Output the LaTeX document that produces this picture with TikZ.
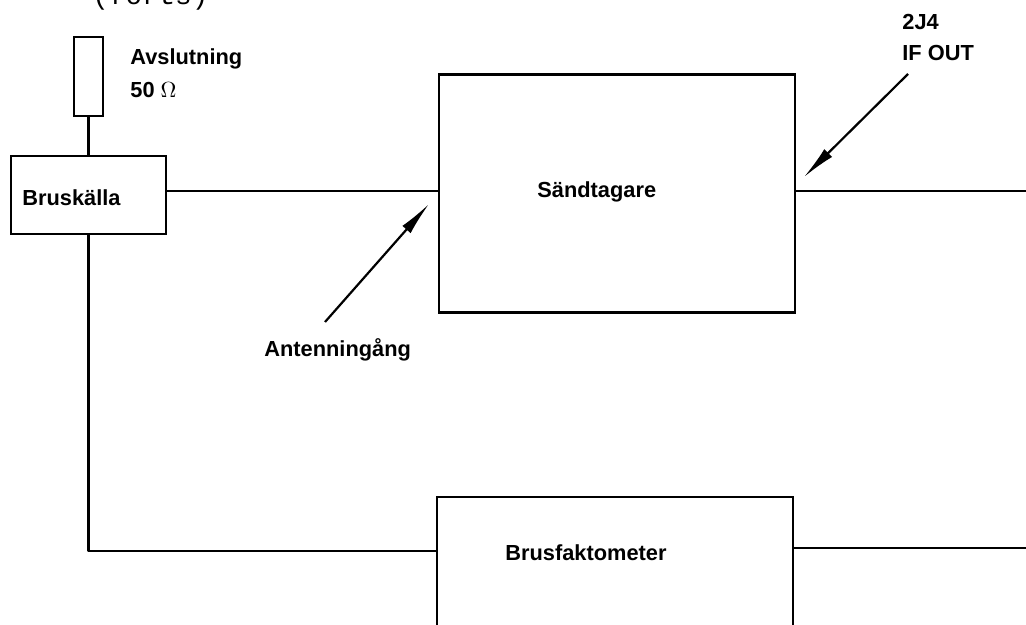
\documentclass[tikz,border=0pt]{standalone}
\usepackage{fontspec}
\setmainfont{Liberation Sans}
\newfontfamily\typewriter{Liberation Mono}
\usetikzlibrary{arrows.meta}
\tikzset{
  wire/.style={line width=1.3pt, line join=round},
  blockbox/.style={draw, line width=1.3pt, inner sep=0pt},
  lbl/.style={font=\fontsize{10.9}{13}\selectfont\bfseries, inner sep=0pt, anchor=west},
  pointer/.style={line width=1.1pt, -{Latex[length=17pt,width=5.5pt]}}
}
\begin{document}
\begin{tikzpicture}[x=0.5pt,y=-0.5pt]
\useasboundingbox (0,0) rectangle (1026,625);

% continuation heading, mostly above the page edge
\node[font=\typewriter\fontsize{13.8}{16}\selectfont, anchor=base west, inner sep=0pt] (forts) at (92,4.5) {(forts)};

% blocks
\node[blockbox, minimum width=14.5pt, minimum height=39.5pt] (res) at (88.5,76.5) {};
\node[blockbox, minimum width=77.5pt, minimum height=39pt] (brk) at (88.5,195) {};
\node[blockbox, minimum width=178pt, minimum height=119pt] (sand) at (617,193.5) {};
\node[blockbox, minimum width=178pt, minimum height=120pt] (bf) at (615,617) {};

% texts
\node[lbl] (avs) at (130,59) {Avslutning};
\node[lbl] (ohm) at (130,90) {50 $\Omega$};
\node[lbl] (brkt) at (22,198) {Bruskälla};
\node[lbl] (sandt) at (537,192) {Sändtagare};
\node[lbl] (bft) at (505,553) {Brusfaktometer};
\node[lbl] (ant) at (264,350) {Antenningång};
\node[lbl] (j4) at (902,22) {2J4};
\node[lbl] (ifo) at (902,53) {IF OUT};

% connections
\coordinate (rightA) at (1026,191);
\coordinate (rightB) at (1026,548);
\coordinate (corner) at (88.5,551);
\draw[wire] (res.south) -- (brk.north);
\draw[wire] (brk.east |- rightA) -- (sand.west |- rightA);
\draw[wire] (sand.east |- rightA) -- (rightA);
\draw[wire] (brk.south) -- (corner) -- (bf.west |- corner);
\draw[wire] (bf.east |- rightB) -- (rightB);

% pointer arrows
\coordinate (antTail) at (325,322);
\coordinate (antTip) at (429,204);
\coordinate (ifTail) at (908,74);
\coordinate (ifTip) at (804,177);
\draw[pointer] (antTail) -- (antTip);
\draw[pointer] (ifTail) -- (ifTip);
\end{tikzpicture}
\end{document}
